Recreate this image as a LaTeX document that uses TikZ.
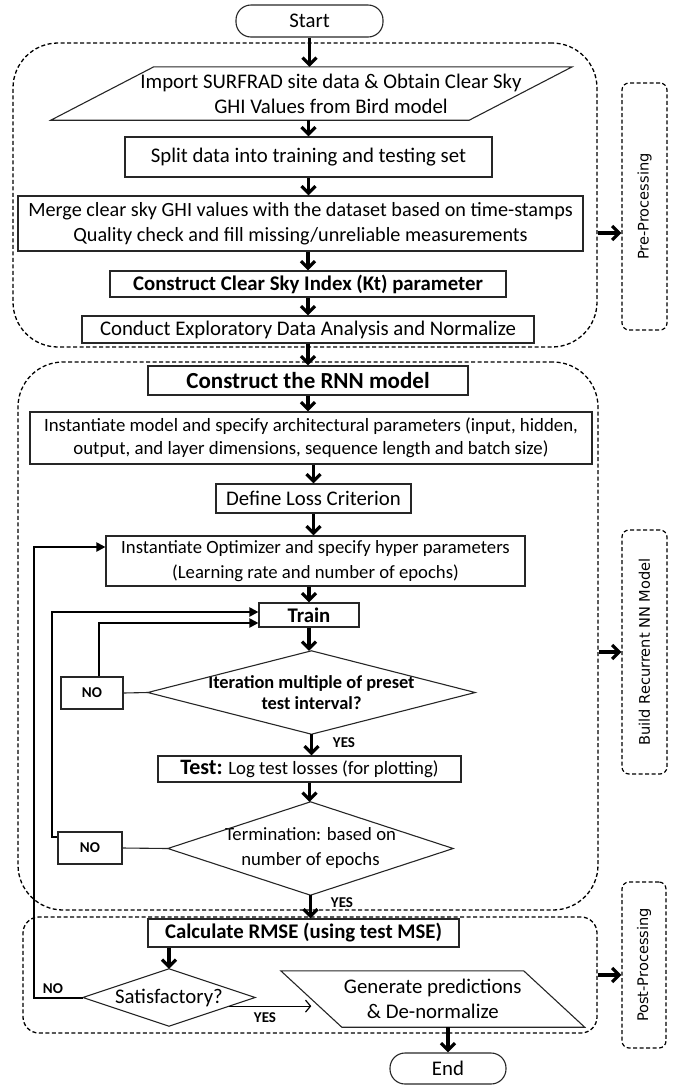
\documentclass[tikz,border=0pt]{standalone}
\usepackage{fontspec}
\setmainfont{Carlito}
\newfontfamily\sidefont{DejaVu Sans}
\usetikzlibrary{arrows.meta,calc}

\begin{document}
\begin{tikzpicture}[x=1pt,y=-1pt,
    every node/.style={inner sep=0pt, align=center, font=\fontsize{20.8}{25}\selectfont},
    box/.style={draw=black!85, line width=1.1pt},
    term/.style={box, rounded corners=15pt},
    group/.style={draw, line width=1.3pt, dash pattern=on 4pt off 2.5pt, rounded corners=45pt},
    sidebox/.style={draw, line width=1.2pt, dash pattern=on 4pt off 2.5pt, rounded corners=7pt,
      font=\sidefont\fontsize{14.6}{18}\selectfont},
    flow/.style={line width=3.2pt, -{Straight Barb[length=7pt,width=14pt]}},
    back/.style={line width=2pt, -{Triangle[length=9pt,width=9pt]}},
    tag/.style={font=\fontsize{15}{18}\selectfont\bfseries}]
  \useasboundingbox (0,0) rectangle (683,1085);

  \node[term, minimum width=147pt, minimum height=32pt] (start) at (309.5,21) {Start};
  \node[minimum width=418pt, minimum height=53pt] (imp) at (331,93.5)
    {Import SURFRAD site data \& Obtain Clear Sky\\GHI Values from Bird model};
  \draw[box] ([xshift=32pt]imp.north west) -- ([xshift=32pt]imp.north east)
    -- ([xshift=-71pt]imp.south east) -- ([xshift=-71pt]imp.south west) -- cycle;
  \node[box, minimum width=367pt, minimum height=40pt] (split) at (308.5,157)
    {Split data into training and testing set};
  \node[box, minimum width=565pt, minimum height=55pt, font=\fontsize{20.2}{25}\selectfont]
    (merge) at (300.5,223.5)
    {Merge clear sky GHI values with the dataset based on time-stamps\\
     Quality check and fill missing/unreliable measurements};
  \node[box, minimum width=396pt, minimum height=26pt, font=\fontsize{20.8}{25}\selectfont\bfseries]
    (kt) at (308,284) {Construct Clear Sky Index (Kt) parameter};
  \node[box, minimum width=452pt, minimum height=27pt] (eda) at (308,329.5)
    {Conduct Exploratory Data Analysis and Normalize};
  \node[group, minimum width=584pt, minimum height=304pt] (pre) at (305,195) {};
  \node[sidebox, minimum width=45pt, minimum height=247pt] (prelbl) at (644.5,206.5)
    {\rotatebox{90}{Pre-Processing}};

  \node[box, minimum width=320pt, minimum height=29pt, font=\fontsize{23}{27}\selectfont\bfseries]
    (rnn) at (308,380.5) {Construct the RNN model};
  \node[box, minimum width=562pt, minimum height=52pt, font=\fontsize{18.8}{23}\selectfont]
    (inst) at (311,438) {Instantiate model and specify architectural parameters (input, hidden,\\
     output, and layer dimensions, sequence length and batch size)};
  \node[box, minimum width=195pt, minimum height=29pt] (loss) at (313.5,498.5) {Define Loss Criterion};
  \node[box, minimum width=419pt, minimum height=50pt, font=\fontsize{18.7}{25}\selectfont]
    (opt) at (315.5,561) {Instantiate Optimizer and specify hyper parameters\\
     (Learning rate and number of epochs)};
  \node[box, minimum width=100pt, minimum height=24pt, font=\fontsize{20.8}{25}\selectfont\bfseries]
    (train) at (309,615) {Train};
  \node[minimum width=327pt, minimum height=83pt, font=\fontsize{18.4}{21}\selectfont\bfseries]
    (iter) at (311.5,692.5) {Iteration multiple of preset\\test interval?};
  \draw[box] (iter.north) -- (iter.east) -- (iter.south) -- (iter.west) -- cycle;
  \node[box, tag, minimum width=62pt, minimum height=32pt] (no1) at (92,693) {NO};
  \node[box, minimum width=303pt, minimum height=26pt, font=\fontsize{18.8}{22}\selectfont]
    (test) at (309.5,769) {{\fontsize{22}{25}\selectfont\bfseries Test:} Log test losses (for plotting)};
  \node[minimum width=285pt, minimum height=93pt, font=\fontsize{18.7}{25}\selectfont]
    (stop) at (310.5,848.5) {Termination: based on\\number of epochs};
  \draw[box] (stop.north) -- (stop.east) -- (stop.south) -- (stop.west) -- cycle;
  \node[box, tag, minimum width=64pt, minimum height=32pt] (no2) at (90,848) {NO};
  \node[group, minimum width=580pt, minimum height=548pt] (rnnbox) at (308,636) {};
  \node[sidebox, minimum width=45pt, minimum height=244pt] (rnnlbl) at (644.5,652)
    {\rotatebox{90}{Build Recurrent NN Model}};

  \node[box, minimum width=311pt, minimum height=28pt, font=\fontsize{20.8}{25}\selectfont\bfseries]
    (rmse) at (303.5,933) {Calculate RMSE (using test MSE)};
  \node[minimum width=172pt, minimum height=57pt] (sat) at (169,997.5) {Satisfactory?};
  \draw[box] (sat.north) -- (sat.east) -- (sat.south) -- (sat.west) -- cycle;
  \node[minimum width=242.5pt, minimum height=56pt] (gen) at (432.75,999)
    {Generate predictions\\\& De-normalize};
  \draw[box] ([xshift=-30.5pt]gen.north west) -- ([xshift=-30.5pt]gen.north east)
    -- ([xshift=30.5pt]gen.south east) -- ([xshift=30.5pt]gen.south west) -- cycle;
  \node[term, minimum width=116pt, minimum height=31pt] (end) at (448,1068.5) {End};
  \node[group, rounded corners=16pt, minimum width=574pt, minimum height=116pt] (post) at (310,975) {};
  \node[sidebox, minimum width=44pt, minimum height=166pt] (postlbl) at (644,965)
    {\rotatebox{90}{Post-Processing}};

  \node[tag] (yes1) at (344,743) {YES};
  \node[tag] (yes2) at (342,903) {YES};
  \node[tag] (yes3) at (265,1018) {YES};
  \node[tag] (nosat) at (53,989) {NO};

  \draw[flow] (start.south) -- (start.south |- imp.north);
  \draw[flow] (split.north |- imp.south) -- (split.north);
  \draw[flow] (split.south) -- (split.south |- merge.north);
  \draw[flow] (kt.north |- merge.south) -- (kt.north);
  \draw[flow] (kt.south) -- (kt.south |- eda.north);
  \draw[flow] (eda.south) -- (eda.south |- rnn.north);
  \draw[flow] (rnn.south) -- (rnn.south |- inst.north);
  \draw[flow] (loss.north |- inst.south) -- (loss.north);
  \draw[flow] (loss.south) -- (loss.south |- opt.north);
  \draw[flow] (train.north |- opt.south) -- (train.north);
  \draw[flow] (train.south) -- (train.south |- iter.north);
  \draw[flow] (iter.south) -- (iter.south |- test.north);
  \draw[flow] (test.south) -- (test.south |- stop.north);
  \draw[flow] (stop.south) -- (stop.south |- rmse.north);
  \draw[flow] (sat.north |- rmse.south) -- (sat.north);
  \draw[flow] (end.north |- gen.south) -- (end.north);

  \draw[box] (no1.east) -- (iter.west);
  \draw[box] (no2.east) -- (stop.west);
  \draw[back] ([xshift=7pt]no1.north) |- ([yshift=-8pt]train.west);
  \draw[back] ([yshift=11pt]no2.west) -- ++(-5,0) |- ([yshift=3pt]train.west);
  \draw[back] (sat.west) -- ++(-49,0) |- ([yshift=14pt]opt.west);
  \coordinate (satout) at ($(sat.east)!0.3!(sat.south)$);
  \draw[line width=1.2pt, -{Straight Barb[length=5pt,width=12pt]}] (satout) -- (satout -| gen.west);

  \draw[flow] ([yshift=-38pt]pre.east) -- ([yshift=-38pt]pre.east -| prelbl.west);
  \draw[flow] (rnnlbl.west -| rnnbox.east) -- (rnnlbl.west);
  \draw[flow] (post.east) -- (post.east -| postlbl.west);
\end{tikzpicture}
\end{document}
